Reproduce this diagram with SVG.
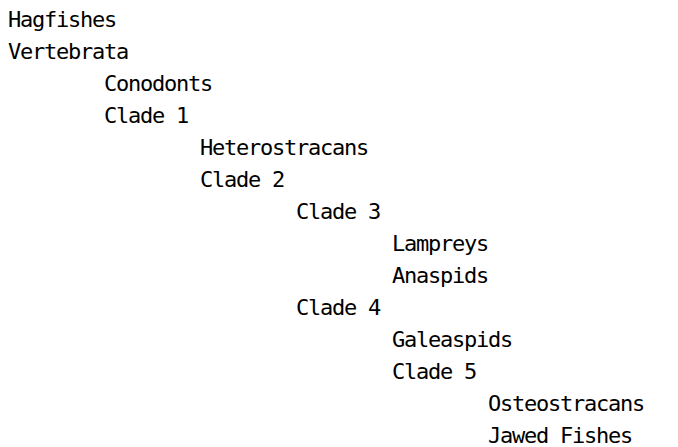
<svg xmlns="http://www.w3.org/2000/svg" width="678" height="447" viewBox="0 0 678 447">
  <style>
    text { font-family: "DejaVu Sans Mono", "Liberation Mono", monospace; font-size: 22px; letter-spacing: -1.24px; fill: #000; }
  </style>
  <rect width="678" height="447" fill="#fff"/>
  <!-- indented taxonomy: each indent level is 8 characters (96px), 32px per row -->
  <g id="tree">
    <g id="hagfishes"><text x="8" y="27">Hagfishes</text></g>
    <g id="vertebrata"><text x="8" y="59">Vertebrata</text></g>
    <g id="conodonts"><text x="104" y="91">Conodonts</text></g>
    <g id="clade1"><text x="104" y="123">Clade 1</text></g>
    <g id="heterostracans"><text x="200" y="155">Heterostracans</text></g>
    <g id="clade2"><text x="200" y="187">Clade 2</text></g>
    <g id="clade3"><text x="296" y="219">Clade 3</text></g>
    <g id="lampreys"><text x="392" y="251">Lampreys</text></g>
    <g id="anaspids"><text x="392" y="283">Anaspids</text></g>
    <g id="clade4"><text x="296" y="315">Clade 4</text></g>
    <g id="galeaspids"><text x="392" y="347">Galeaspids</text></g>
    <g id="clade5"><text x="392" y="379">Clade 5</text></g>
    <g id="osteostracans"><text x="488" y="411">Osteostracans</text></g>
    <g id="jawed-fishes"><text x="488" y="443">Jawed Fishes</text></g>
  </g>
</svg>
